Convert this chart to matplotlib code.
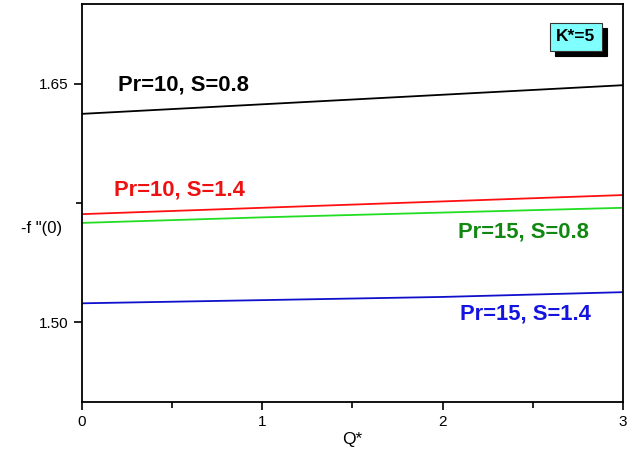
import matplotlib
matplotlib.use("Agg")
import matplotlib.pyplot as plt
from matplotlib.ticker import MultipleLocator
from matplotlib.patches import Rectangle

plt.rcParams['font.family'] = ['Liberation Sans', 'DejaVu Sans']

q = [0, 1, 2, 3]
pr10_s08 = [1.631, 1.637, 1.643, 1.649]
pr10_s14 = [1.568, 1.572, 1.576, 1.580]
pr15_s08 = [1.5625, 1.566, 1.569, 1.572]
pr15_s14 = [1.512, 1.514, 1.516, 1.519]

series = [
    (pr10_s08, "#000000", "Pr=10, S=0.8", "#000000", (0.56, 1.649)),
    (pr10_s14, "#ff1010", "Pr=10, S=1.4", "#ee1111", (0.54, 1.583)),
    (pr15_s08, "#22dd22", "Pr=15, S=0.8", "#118811", (2.45, 1.5568)),
    (pr15_s14, "#1010cc", "Pr=15, S=1.4", "#1414e0", (2.46, 1.5053)),
]

fig = plt.figure(figsize=(6.34, 4.54), dpi=100)
ax = fig.add_axes([0.1293, 0.1145, 0.8533, 0.8767])

for vals, col, lab, tcol, pos in series:
    ax.plot(q, vals, color=col, lw=1.3)
    ax.text(pos[0], pos[1], lab, color=tcol, fontsize=15.8, fontweight='bold',
            ha='center', va='center')

ax.set_xlim(0, 3)
ax.set_ylim(1.45, 1.70)
ax.xaxis.set_major_locator(MultipleLocator(1))
ax.xaxis.set_minor_locator(MultipleLocator(0.5))
ax.yaxis.set_major_locator(MultipleLocator(0.15))
ax.yaxis.set_minor_locator(MultipleLocator(0.075))
ax.yaxis.set_major_formatter(matplotlib.ticker.FormatStrFormatter('%.2f'))
ax.tick_params(which='major', direction='out', length=6, width=1.2, labelsize=11)
ax.tick_params(which='minor', direction='out', length=4, width=1.2)
for sp in ax.spines.values():
    sp.set_linewidth(1.3)

ax.set_xlabel("Q*", fontsize=12.5, labelpad=2)
ax.text(-0.075, 0.435, "-f \"(0)", transform=ax.transAxes, fontsize=12,
        ha='center', va='center')

# K*=5 box with shadow
bx0, by0, bw, bh = 0.865, 0.883, 0.096, 0.070
ax.add_patch(Rectangle((bx0 + 0.009, by0 - 0.013), bw, bh, transform=ax.transAxes,
                       facecolor='black', edgecolor='black', lw=0.8, clip_on=False, zorder=5))
ax.add_patch(Rectangle((bx0, by0), bw, bh, transform=ax.transAxes,
                       facecolor='#80ffff', edgecolor='#333333', lw=0.8, clip_on=False, zorder=6))
ax.text(bx0 + bw / 2, by0 + bh / 2, "K*=5", transform=ax.transAxes, fontsize=12.5,
        fontweight='bold', ha='center', va='center', zorder=7)

fig.savefig("out.png", dpi=100)
